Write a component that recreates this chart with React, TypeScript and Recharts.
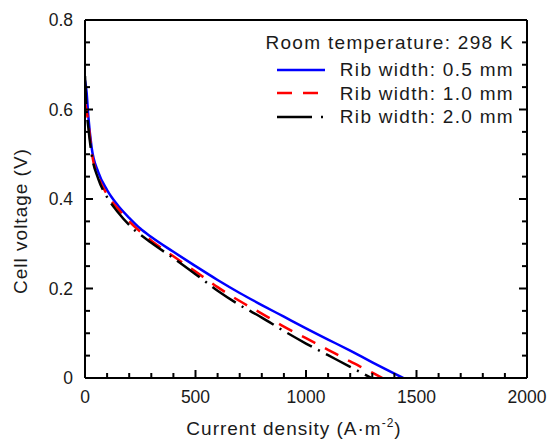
import { Line, LineChart, XAxis, YAxis } from "recharts"

// current density (A·m-2) and cell voltage (V)
const X_RIB_05 = [0, 7, 15, 30, 60, 100, 150, 200, 250, 300, 400, 500, 600, 700, 800, 900, 1000, 1100, 1200, 1300, 1440]
const V_RIB_05 = [0.665, 0.64, 0.585, 0.515, 0.46, 0.42, 0.385, 0.358, 0.334, 0.315, 0.282, 0.25, 0.219, 0.19, 0.163, 0.137, 0.111, 0.086, 0.061, 0.035, 0]

const X_RIB_10 = [0, 7, 15, 30, 60, 100, 150, 200, 300, 400, 500, 600, 700, 800, 900, 1000, 1100, 1200, 1300, 1345]
const V_RIB_10 = [0.615, 0.598, 0.57, 0.505, 0.45, 0.41, 0.378, 0.35, 0.307, 0.272, 0.238, 0.203, 0.172, 0.144, 0.115, 0.089, 0.063, 0.037, 0.012, 0]

const X_RIB_20 = [0, 5, 15, 30, 60, 100, 150, 200, 300, 400, 500, 600, 700, 800, 900, 1000, 1100, 1200, 1297]
const V_RIB_20 = [0.675, 0.615, 0.56, 0.5, 0.445, 0.404, 0.37, 0.342, 0.302, 0.268, 0.232, 0.195, 0.163, 0.135, 0.105, 0.077, 0.051, 0.025, 0]

const X_TICKS = [0, 100, 200, 300, 400, 500, 600, 700, 800, 900, 1000, 1100, 1200, 1300, 1400, 1500, 1600, 1700, 1800, 1900, 2000]
const Y_TICKS = [0, 0.05, 0.1, 0.15, 0.2, 0.25, 0.3, 0.35, 0.4, 0.45, 0.5, 0.55, 0.6, 0.65, 0.7, 0.75, 0.8]

const SERIES = [
  { name: "Rib width: 0.5 mm", xs: X_RIB_05, vs: V_RIB_05, color: "#0000ff", dash: undefined, legendDash: undefined },
  { name: "Rib width: 1.0 mm", xs: X_RIB_10, vs: V_RIB_10, color: "#ff0000", dash: "15 11", legendDash: "15 11" },
  { name: "Rib width: 2.0 mm", xs: X_RIB_20, vs: V_RIB_20, color: "#000000", dash: "28 7 2 7", legendDash: "35 9 2 9" },
]

const FONT = "'Liberation Sans', Arial, sans-serif"
const textStyle = { fontFamily: FONT, fontSize: 17.5, fill: "#1a1a1a" }
const axisLine = { stroke: "#000", strokeWidth: 2 }

const isMajorY = (v: number) => Math.abs(v * 5 - Math.round(v * 5)) < 1e-6

function BottomTick({ x, y, payload }: any) {
  const major = payload.value % 500 === 0
  return (
    <g>
      <line x1={x} y1={y} x2={x} y2={y - (major ? 8 : 5)} stroke="#000" strokeWidth={2} />
      {major && (
        <text x={x} y={y + 25} textAnchor="middle" {...textStyle}>
          {payload.value}
        </text>
      )}
    </g>
  )
}

function TopTick({ x, y, payload }: any) {
  const major = payload.value % 500 === 0
  return <line x1={x} y1={y} x2={x} y2={y + (major ? 8 : 5)} stroke="#000" strokeWidth={2} />
}

function LeftTick({ x, y, payload }: any) {
  const major = isMajorY(payload.value)
  return (
    <g>
      <line x1={x} y1={y} x2={x + (major ? 8 : 5)} y2={y} stroke="#000" strokeWidth={2} />
      {major && (
        <text x={x - 12} y={y + 6} textAnchor="end" {...textStyle}>
          {payload.value === 0 ? "0" : payload.value.toFixed(1)}
        </text>
      )}
    </g>
  )
}

function RightTick({ x, y, payload }: any) {
  const major = isMajorY(payload.value)
  return <line x1={x} y1={y} x2={x - (major ? 8 : 5)} y2={y} stroke="#000" strokeWidth={2} />
}

const titleStyle = { fontFamily: FONT, fontSize: 19, fill: "#1a1a1a", letterSpacing: 1 }

function XTitle({ viewBox }: any) {
  const cx = viewBox.x + viewBox.width / 2 - 12
  return (
    <text x={cx} y={viewBox.y + 57} textAnchor="middle" {...titleStyle}>
      Current density (A·m
      <tspan fontSize={12} dy={-8}>-2</tspan>
      <tspan dy={8}>)</tspan>
    </text>
  )
}

function YTitle({ viewBox }: any) {
  const cx = viewBox.x + 27
  const cy = viewBox.y + viewBox.height / 2 + 22
  return (
    <text x={cx} y={cy} textAnchor="middle" transform={`rotate(-90, ${cx}, ${cy})`} {...titleStyle}>
      Cell voltage (V)
    </text>
  )
}

function LegendBox() {
  const rowText = { fontFamily: FONT, fontSize: 19, color: "#1a1a1a", letterSpacing: 1.3, whiteSpace: "nowrap" as const }
  return (
    <div style={{ position: "absolute", left: 250, top: 30, width: 264 }}>
      <div style={{ ...rowText, height: 26, lineHeight: "26px", textAlign: "right" }}>Room temperature: 298 K</div>
      <div style={{ marginTop: 2 }}>
        {SERIES.map((s) => (
          <div key={s.name} style={{ display: "flex", justifyContent: "flex-end", alignItems: "center", height: 23.5 }}>
            <svg width={48} height={6} style={{ marginRight: 15 }}>
              <line x1={0} y1={3} x2={48} y2={3} stroke={s.color} strokeWidth={2.5} strokeDasharray={s.legendDash} />
            </svg>
            <span style={{ ...rowText, lineHeight: "23.5px" }}>{s.name}</span>
          </div>
        ))}
      </div>
    </div>
  )
}

export default function App() {
  return (
    <div style={{ position: "absolute", left: 0, top: 0, width: 550, height: 439, background: "#fff" }}>
      <LineChart width={550} height={439} margin={{ top: 0, right: 0, bottom: 0, left: 0 }}>
        <XAxis
          xAxisId="b"
          type="number"
          dataKey="x"
          domain={[0, 2000]}
          allowDataOverflow
          ticks={X_TICKS}
          interval={0}
          height={61}
          tickSize={0}
          tickMargin={0}
          tickLine={false}
          axisLine={axisLine}
          tick={<BottomTick />}
          label={<XTitle />}
        />
        <XAxis
          xAxisId="t"
          orientation="top"
          type="number"
          domain={[0, 2000]}
          allowDataOverflow
          ticks={X_TICKS}
          interval={0}
          height={20}
          tickSize={0}
          tickMargin={0}
          tickLine={false}
          axisLine={axisLine}
          tick={<TopTick />}
        />
        <YAxis
          yAxisId="l"
          type="number"
          domain={[0, 0.8]}
          allowDataOverflow
          ticks={Y_TICKS}
          interval={0}
          width={85}
          tickSize={0}
          tickMargin={0}
          tickLine={false}
          axisLine={axisLine}
          tick={<LeftTick />}
          label={<YTitle />}
        />
        <YAxis
          yAxisId="r"
          orientation="right"
          type="number"
          domain={[0, 0.8]}
          allowDataOverflow
          ticks={Y_TICKS}
          interval={0}
          width={23}
          tickSize={0}
          tickMargin={0}
          tickLine={false}
          axisLine={axisLine}
          tick={<RightTick />}
        />
        {SERIES.map((s) => (
          <Line
            key={s.name}
            xAxisId="b"
            yAxisId="l"
            data={s.xs.map((x, i) => ({ x, v: s.vs[i] }))}
            dataKey="v"
            type="monotone"
            stroke={s.color}
            strokeWidth={2.5}
            strokeDasharray={s.dash}
            dot={false}
            activeDot={false}
            isAnimationActive={false}
          />
        ))}
      </LineChart>
      <LegendBox />
    </div>
  )
}
